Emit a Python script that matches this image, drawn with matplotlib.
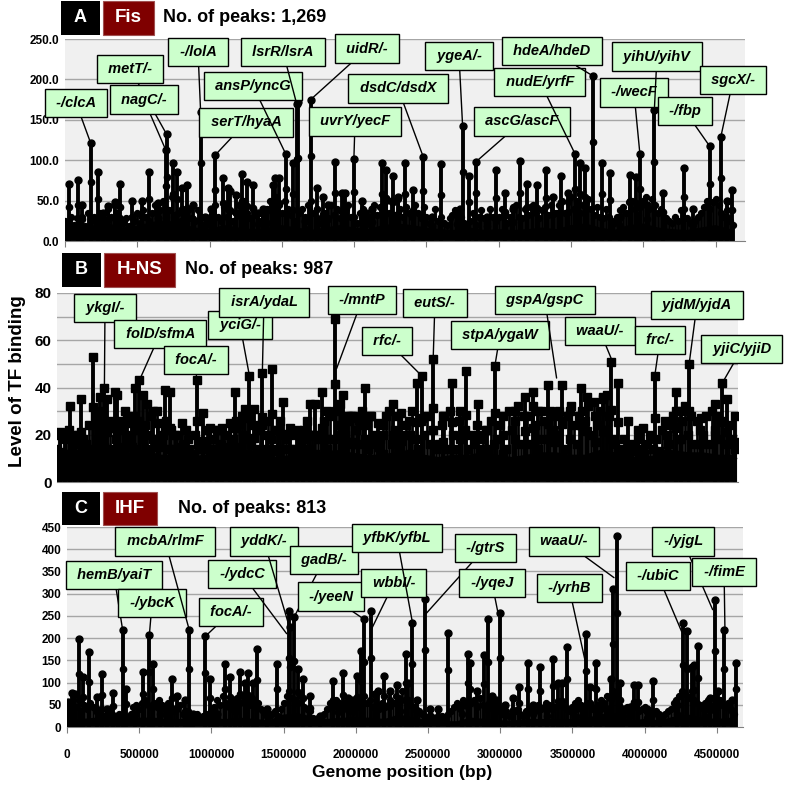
import matplotlib
matplotlib.use('Agg')
import matplotlib.pyplot as plt
from matplotlib.patches import Rectangle
import numpy as np

plt.rcParams['font.family'] = ['Liberation Sans', 'DejaVu Sans']

# ---------------- data (positions in kb) ----------------
fis_pos = [28, 92, 115, 178, 226, 265, 300, 346, 380, 461, 530, 583, 645, 696, 703, 749, 772, 807,
           841, 887, 938, 968, 1010, 1037, 1095, 1129, 1141, 1180, 1226, 1256, 1302, 1332, 1371,
           1394, 1441, 1452, 1482, 1526, 1579, 1602, 1609, 1660, 1699, 1745, 1786, 1821, 1867,
           1913, 1936, 1998, 2056, 2079, 2120, 2190, 2219, 2259, 2271, 2305, 2351, 2409, 2478,
           2536, 2600, 2709, 2732, 2750, 2794, 2842, 2916, 2981, 3043, 3101, 3147, 3193, 3262,
           3324, 3373, 3428, 3481, 3527, 3562, 3596, 3654, 3711, 3769, 3838, 3907, 3949, 3976,
           4023, 4076, 4138, 4281, 4345, 4460, 4536, 4576, 4610]
fis_val = [71, 75, 45, 121, 86, 35, 43, 48, 71, 50, 49, 86, 47, 113, 132, 96, 86, 65,
           69, 45, 160, 30, 40, 106, 78, 65, 62, 57, 83, 73, 69, 35, 40,
           38, 69, 78, 78, 108, 96, 170, 172, 25, 175, 65, 55, 45, 98,
           59, 60, 102, 50, 35, 40, 96, 88, 50, 80, 55, 96, 63, 104,
           30, 95, 35, 40, 142, 80, 98, 30, 88, 60, 40, 99, 71, 69,
           88, 55, 80, 60, 108, 96, 90, 204, 96, 84, 30, 82, 79, 108,
           45, 162, 60, 90, 40, 117, 129, 50, 63]
# small peaks, one every 20 kb from 0 kb
fis_minor = [25, 18, 30, 20, 28, 22, 30, 18, 35, 25, 30, 22, 35, 28, 25, 40, 30, 45, 35, 28,
             22, 28, 18, 30, 25, 35, 22, 38, 30, 25, 35, 45, 28, 38, 50, 30, 38, 55, 32, 35,
             25, 35, 22, 40, 28, 25, 38, 30, 20, 28, 30, 40, 45, 30, 25, 42, 30, 38, 25, 35,
             45, 30, 50, 35, 28, 40, 32, 25, 35, 40, 40, 50, 32, 55, 45, 35, 50, 40, 32, 38,
             25, 35, 40, 30, 45, 50, 35, 28, 22, 30, 35, 28, 45, 32, 40, 28, 25, 40, 45, 30,
             30, 22, 35, 40, 28, 30, 40, 45, 32, 42, 45, 50, 35, 48, 32, 52, 40, 30, 42, 35,
             30, 45, 35, 28, 42, 30, 22, 30, 40, 25, 30, 22, 20, 28, 32, 38, 25, 30, 22, 20,
             25, 35, 20, 30, 38, 28, 22, 40, 30, 25, 30, 40, 32, 22, 30, 42, 45, 30, 28, 40,
             32, 42, 45, 35, 28, 38, 42, 32, 45, 35, 35, 45, 50, 35, 48, 55, 40, 50, 35, 45,
             48, 52, 40, 32, 42, 30, 28, 40, 30, 25, 22, 30, 38, 42, 35, 48, 50, 40, 32, 42,
             50, 55, 40, 52, 45, 35, 40, 30, 28, 25, 22, 30, 25, 38, 40, 28, 22, 20, 25, 30,
             35, 42, 50, 40, 48, 52, 45, 35, 30, 38, 25, 20]
# solid band height, one every 100 kb
fis_floor = [14, 15, 18, 20, 15, 17, 22, 24, 20, 15, 13, 18, 15, 13, 15, 18, 15, 12, 15, 18, 15, 13,
             18, 20, 18, 15, 13, 12, 15, 12, 13, 12, 13, 15, 13, 18, 20, 15, 12, 18, 20, 15, 13,
             12, 15, 18, 13]

hns_pos = [21, 55, 89, 123, 162, 191, 243, 271, 293, 323, 339, 395, 411, 448, 480, 509, 532, 561,
           584, 611, 657, 691, 736, 770, 804, 850, 895, 952, 997, 1043, 1088, 1122, 1179, 1213,
           1247, 1281, 1311, 1343, 1399, 1429, 1463, 1508, 1542, 1588, 1633, 1679, 1724, 1758,
           1804, 1838, 1894, 1928, 1951, 1985, 2019, 2053, 2099, 2133, 2190, 2224, 2292, 2347,
           2404, 2450, 2484, 2563, 2631, 2688, 2745, 2790, 2870, 2927, 2983, 3040, 3120, 3188,
           3245, 3279, 3347, 3392, 3438, 3494, 3567, 3608, 3665, 3721, 3749, 3778, 3824, 3892,
           3960, 3994, 4073, 4153, 4216, 4255, 4307, 4391, 4482, 4534, 4562, 4618]
hns_val = [21, 20, 32, 20, 35, 15, 53, 25, 36, 40, 35, 38, 37, 25, 27, 25, 40, 43,
           37, 33, 30, 25, 39, 38, 20, 25, 18, 43, 29, 23, 22, 23, 25, 38,
           25, 31, 45, 31, 46, 20, 48, 22, 34, 23, 22, 18, 33, 33,
           38, 30, 69, 33, 37, 28, 28, 27, 40, 28, 25, 20, 33, 29,
           20, 42, 45, 52, 28, 42, 30, 47, 33, 22, 49, 20, 30, 36,
           38, 30, 41, 28, 41, 30, 40, 36, 28, 36, 37, 51, 42, 26,
           22, 23, 45, 20, 38, 30, 50, 27, 33, 42, 35, 28]
hns_minor = [14, 20, 12, 18, 22, 14, 16, 20, 12, 18, 16, 24, 14, 28, 18, 30, 15, 22, 26, 14,
             18, 26, 14, 30, 20, 16, 28, 14, 22, 18, 24, 14, 28, 18, 30, 16, 20, 26, 14, 22,
             14, 20, 12, 16, 22, 14, 12, 20, 16, 14, 16, 22, 13, 18, 14, 22, 16, 12, 20, 14,
             18, 26, 14, 28, 20, 30, 16, 24, 14, 22, 24, 14, 26, 18, 14, 22, 26, 14, 18, 20,
             14, 12, 20, 16, 22, 26, 14, 20, 12, 18, 20, 26, 14, 28, 18, 30, 24, 14, 20, 26,
             28, 16, 22, 26, 30, 18, 14, 28, 20, 16, 18, 24, 28, 30, 16, 22, 28, 14, 20, 24,
             26, 30, 18, 14, 26, 20, 28, 16, 22, 14, 16, 24, 28, 14, 30, 20, 14, 26, 18, 22,
             14, 20, 16, 24, 14, 18, 22, 14, 26, 16, 18, 24, 28, 14, 30, 22, 26, 32, 16, 28,
             28, 16, 32, 24, 14, 30, 26, 18, 30, 22, 20, 30, 26, 14, 28, 32, 24, 16, 28, 30,
             26, 32, 20, 34, 24, 30, 35, 22, 28, 18, 16, 14, 12, 18, 14, 12, 16, 13, 18, 14,
             12, 16, 20, 14, 18, 13, 22, 26, 16, 24, 28, 30, 18, 26, 32, 20, 28, 16, 26, 22,
             20, 28, 16, 30, 22, 28, 18, 26, 16, 24, 18, 14]
hns_floor = [11, 12, 13, 13, 13, 12, 13, 11, 11, 10, 11, 11, 12, 13, 11, 10, 11, 11, 12, 13, 12, 11,
             11, 12, 13, 11, 10, 11, 11, 12, 11, 10, 11, 12, 12, 11, 11, 13, 12, 10, 10, 11, 13, 12,
             12, 11, 11]

ihf_pos = [9, 32, 55, 85, 113, 155, 205, 240, 275, 316, 355, 390, 408, 471, 528, 570, 593, 644,
           683, 702, 725, 759, 817, 847, 875, 958, 990, 1013, 1036, 1094, 1129, 1163, 1198, 1232,
           1255, 1285, 1318, 1382, 1456, 1535, 1544, 1572, 1602, 1636, 1682, 1752, 1844, 1879,
           1913, 1948, 1982, 2006, 2038, 2059, 2105, 2133, 2156, 2197, 2236, 2283, 2306, 2348,
           2364, 2392, 2422, 2479, 2514, 2572, 2636, 2733, 2779, 2791, 2837, 2888, 2913, 2941,
           2971, 2999, 3033, 3091, 3132, 3195, 3229, 3276, 3322, 3368, 3403, 3426, 3460, 3518,
           3564, 3592, 3622, 3661, 3691, 3737, 3767, 3779, 3806, 3829, 3853, 3899, 3926, 3952,
           4014, 4056, 4107, 4222, 4263, 4291, 4326, 4344, 4372, 4418, 4453, 4487, 4510, 4550,
           4603, 4630]
ihf_val = [56, 77, 75, 199, 112, 169, 68, 120, 40, 77, 25, 219, 86, 30, 124, 206, 142, 50,
           45, 40, 109, 70, 60, 218, 30, 204, 109, 40, 30, 142, 113, 60, 124, 99,
           121, 99, 176, 40, 142, 260, 224, 247, 130, 107, 70, 25, 103, 55,
           121, 65, 60, 114, 172, 242, 260, 75, 82, 115, 80, 95, 60, 165,
           100, 235, 60, 289, 40, 40, 212, 50, 165, 143, 80, 161, 244, 70,
           60, 257, 50, 65, 90, 143, 50, 135, 40, 154, 99, 99, 180, 40,
           40, 209, 90, 144, 40, 40, 109, 311, 429, 100, 40, 45, 94, 94,
           35, 103, 25, 50, 234, 217, 135, 139, 182, 40, 65, 286, 80, 219,
           60, 144]
ihf_minor = [40, 55, 30, 45, 60, 35, 50, 40, 55, 45, 35, 30, 40, 25, 30, 35, 28, 25, 30, 22,
             25, 20, 30, 45, 50, 40, 55, 60, 50, 45, 55, 45, 60, 50, 40, 55, 45, 35, 40, 50,
             30, 25, 35, 20, 25, 30, 20, 25, 30, 22, 35, 45, 60, 50, 70, 55, 45, 60, 50, 65,
             55, 70, 60, 50, 65, 45, 55, 40, 35, 30, 25, 30, 35, 25, 40, 55, 70, 80, 65, 60,
             55, 70, 45, 40, 35, 20, 15, 20, 25, 30, 40, 55, 45, 60, 50, 40, 55, 45, 60, 50,
             55, 45, 60, 70, 55, 60, 45, 50, 40, 55, 45, 50, 60, 55, 70, 65, 80, 60, 55, 50,
             45, 40, 35, 30, 25, 20, 25, 20, 15, 20, 25, 20, 30, 35, 45, 55, 40, 60, 50, 45,
             55, 60, 45, 65, 50, 40, 55, 60, 45, 50, 40, 30, 35, 25, 30, 35, 40, 30, 25, 35,
             40, 45, 35, 50, 40, 45, 55, 50, 40, 45, 50, 55, 45, 40, 35, 45, 55, 60, 50, 45,
             55, 50, 40, 45, 50, 60, 55, 70, 65, 80, 70, 50, 40, 35, 45, 40, 50, 45, 35, 40,
             45, 40, 35, 30, 35, 30, 25, 30, 35, 40, 55, 60, 70, 80, 75, 65, 70, 60, 55, 50,
             45, 55, 60, 50, 65, 55, 60, 50, 45, 55, 40, 30]
ihf_floor = [12, 15, 18, 15, 12, 18, 18, 15, 15, 12, 15, 15, 18, 15, 12, 25, 28, 20, 15, 18, 18, 18,
             15, 25, 18, 12, 10, 10, 18, 15, 12, 12, 15, 15, 15, 15, 18, 25, 28, 12, 15, 12, 20,
             25, 18, 15, 18]
minor_step_kb = 20
floor_step_kb = 100

# labels: (text, target kb, target value)
fis_labels = [("-/clcA", 178, 121), ("metT/-", 703, 132), ("nagC/-", 696, 113), ("-/lolA", 938, 160),
              ("serT/hyaA", 1037, 106), ("ansP/yncG", 1526, 108), ("lsrR/lsrA", 1602, 170),
              ("uidR/-", 1699, 175), ("uvrY/yecF", 1998, 102), ("dsdC/dsdX", 2478, 104),
              ("ygeA/-", 2750, 142), ("ascG/ascF", 2842, 98), ("nudE/yrfF", 3527, 108),
              ("hdeA/hdeD", 3654, 204), ("-/wecF", 3976, 108), ("yihU/yihV", 4076, 162),
              ("-/fbp", 4460, 117), ("sgcX/-", 4536, 129)]
hns_labels = [("ykgI/-", 323, 40), ("folD/sfmA", 561, 43), ("focA/-", 952, 40), ("yciG/-", 1311, 45),
              ("isrA/ydaL", 1399, 46), ("-/mntP", 1905, 48), ("rfc/-", 2484, 45), ("eutS/-", 2563, 52),
              ("stpA/ygaW", 2983, 49), ("gspA/gspC", 3404, 44), ("waaU/-", 3778, 52),
              ("frc/-", 4073, 45), ("yjdM/yjdA", 4307, 50), ("yjiC/yjiD", 4534, 42)]
ihf_labels = [("hemB/yaiT", 385, 219), ("-/ybcK", 570, 206), ("mcbA/rlmF", 847, 218), ("focA/-", 958, 204),
              ("-/ydcC", 1521, 210), ("yddK/-", 1540, 225), ("gadB/-", 1572, 247), ("-/yeeN", 2059, 242),
              ("wbbI/-", 2105, 218), ("yfbK/yfbL", 2392, 235), ("-/gtrS", 2486, 255),
              ("-/yqeJ", 2988, 251), ("waaU/-", 3788, 336), ("-/yrhB", 3587, 150),
              ("-/ubiC", 4257, 214), ("-/yjgL", 4471, 264), ("-/fimE", 4556, 218)]

# label box centres (layout, in data units of each panel)
fis_boxes = [(76, 171), (450, 213), (546, 175), (920, 234), (1252, 147), (1300, 192), (1508, 234),
             (2089, 238), (2006, 148), (2303, 189), (2725, 229), (3161, 148), (3285, 197),
             (3368, 235), (3935, 184), (4094, 228), (4288, 161), (4620, 199)]
hns_boxes = [(327, 73.7), (702, 62.7), (947, 51.6), (1247, 66.5), (1410, 76), (2078, 77), (2248, 59.7),
             (2575, 75.8), (3018, 62.2), (3324, 77), (3699, 63.9), (4108, 60.1), (4360, 74.9),
             (4666, 56.3)]
ihf_boxes = [(325, 342), (589, 279), (679, 418), (1136, 259), (1212, 344), (1364, 418), (1780, 376),
             (1828, 293), (2264, 324), (2285, 425), (2895, 403), (2943, 324), (3442, 418),
             (3477, 313), (4093, 340), (4266, 418), (4550, 349)]

W, H = 788, 786
fig = plt.figure(figsize=(W / 100, H / 100), dpi=100)


def ax_at(l, r, t, b):
    return fig.add_axes([l / W, 1 - b / H, (r - l) / W, (b - t) / H])


GRID = '#a6a6a6'
BG = '#f0f0f0'
BOXC = '#ccffcc'


def draw_panel(ax, pos, val, minor, floor, labels, boxes, ymax, grid_step, marker, ms, xmax, mlw):
    ax.set_facecolor(BG)
    ax.set_xlim(0, xmax)
    ax.set_ylim(0, ymax)
    for g in np.arange(grid_step, ymax + 0.01, grid_step):
        ax.axhline(g, color=GRID, lw=1.0, zorder=0.5)
    fpos = np.arange(len(floor)) * floor_step_kb * 1000
    ax.fill_between(fpos, floor, color='black', lw=0, zorder=2)
    ax.plot(fpos, floor, color='black', lw=2, zorder=2)
    mpos = np.arange(len(minor)) * minor_step_kb * 1000
    mval = np.array(minor)
    ax.vlines(mpos, 0, mval, color='black', lw=mlw, zorder=2.5)
    ax.plot(mpos, mval, ls='none', marker=marker, ms=ms * 0.85, color='black', zorder=2.5)
    p = np.array(pos) * 1000
    v = np.array(val)
    ax.vlines(p, 0, v, color='black', lw=2.8, zorder=3)
    ax.plot(p, v, ls='none', marker=marker, ms=ms, color='black', zorder=3)
    ax.plot(p, v * 0.6, ls='none', marker=marker, ms=ms * 0.9, color='black', zorder=3)
    for (txt, tx, ty), (bx, by) in zip(labels, boxes):
        ax.annotate(' ' + txt + ' ', xy=(tx * 1000, ty), xytext=(bx * 1000, by), textcoords='data',
                    ha='center', va='center', fontsize=10.5, fontweight='bold', fontstyle='italic',
                    bbox=dict(boxstyle='square,pad=0.5', fc=BOXC, ec='black', lw=1),
                    arrowprops=dict(arrowstyle='-', color='black', lw=1, shrinkA=0, shrinkB=0),
                    annotation_clip=False, zorder=6)
    for s in ['left', 'right', 'top']:
        ax.spines[s].set_visible(False)
    ax.spines['bottom'].set_color('#808080')
    ax.tick_params(axis='y', length=0, pad=4)
    ax.tick_params(axis='x', length=4, color='#808080', direction='out')
    ax.set_xticks(np.arange(0, 4500001, 500000))


axA = ax_at(65, 745, 39, 241)
draw_panel(axA, fis_pos, fis_val, fis_minor, fis_floor, fis_labels, fis_boxes, 250, 50, 'o', 5,
           4703000, 2.1)
axA.set_yticks(np.arange(0, 251, 50))
axA.set_yticklabels([f'{t:.1f}' for t in np.arange(0, 251, 50)], fontsize=8.5, fontweight='bold')
axA.set_xticklabels([])

axB = ax_at(57, 738, 293, 482)
draw_panel(axB, hns_pos, hns_val, hns_minor, hns_floor, hns_labels, hns_boxes, 80, 10, 's', 6.2,
           4640000, 2.0)
axB.set_yticks(np.arange(0, 81, 20))
axB.set_yticklabels([str(t) for t in range(0, 81, 20)], fontsize=11, fontweight='bold')
axB.set_xticklabels([])
axB.tick_params(axis='x', length=0)

axC = ax_at(67, 743, 527, 727)
draw_panel(axC, ihf_pos, ihf_val, ihf_minor, ihf_floor, ihf_labels, ihf_boxes, 450, 50, 'o', 5,
           4681000, 2.0)
axC.set_yticks(np.arange(0, 451, 50))
axC.set_yticklabels([str(t) for t in range(0, 451, 50)], fontsize=8.5, fontweight='bold')
axC.set_xticklabels([str(t) for t in range(0, 4500001, 500000)], fontsize=8.5, fontweight='bold')
axC.tick_params(axis='x', pad=12)


def header(letter, name, x0, x1, x2, y0, y1, text, tx):
    fig.add_artist(Rectangle((x0 / W, 1 - y1 / H), (x1 - x0) / W, (y1 - y0) / H,
                             transform=fig.transFigure, fc='black', ec='none'))
    fig.text((x0 + x1) / 2 / W, 1 - (y0 + y1) / 2 / H, letter, color='white', fontsize=13,
             fontweight='bold', ha='center', va='center')
    fig.add_artist(Rectangle(((x1 + 3) / W, 1 - y1 / H), (x2 - x1 - 3) / W, (y1 - y0) / H,
                             transform=fig.transFigure, fc='#7f0000', ec='#a05050', lw=0.8))
    fig.text((x1 + 3 + x2) / 2 / W, 1 - (y0 + y1) / 2 / H, name, color='white', fontsize=13.5,
             fontweight='bold', ha='center', va='center')
    fig.text(tx / W, 1 - (y0 + y1) / 2 / H, text, color='black', fontsize=13,
             fontweight='bold', ha='left', va='center')


header('A', 'Fis', 61, 100, 154, 1, 35, 'No. of peaks: 1,269', 163)
header('B', 'H-NS', 62, 101, 175, 253, 287, 'No. of peaks: 987', 185)
header('C', 'IHF', 62, 100, 157, 492, 525, 'No. of peaks: 813', 178)

fig.text(18 / W, 1 - 381 / H, 'Level of TF binding', rotation=90, fontsize=13.5, fontweight='bold',
         ha='center', va='center')
fig.text(402 / W, 1 - 773 / H, 'Genome position (bp)', fontsize=12.5, fontweight='bold',
         ha='center', va='center')

fig.savefig('out.png', dpi=100)
